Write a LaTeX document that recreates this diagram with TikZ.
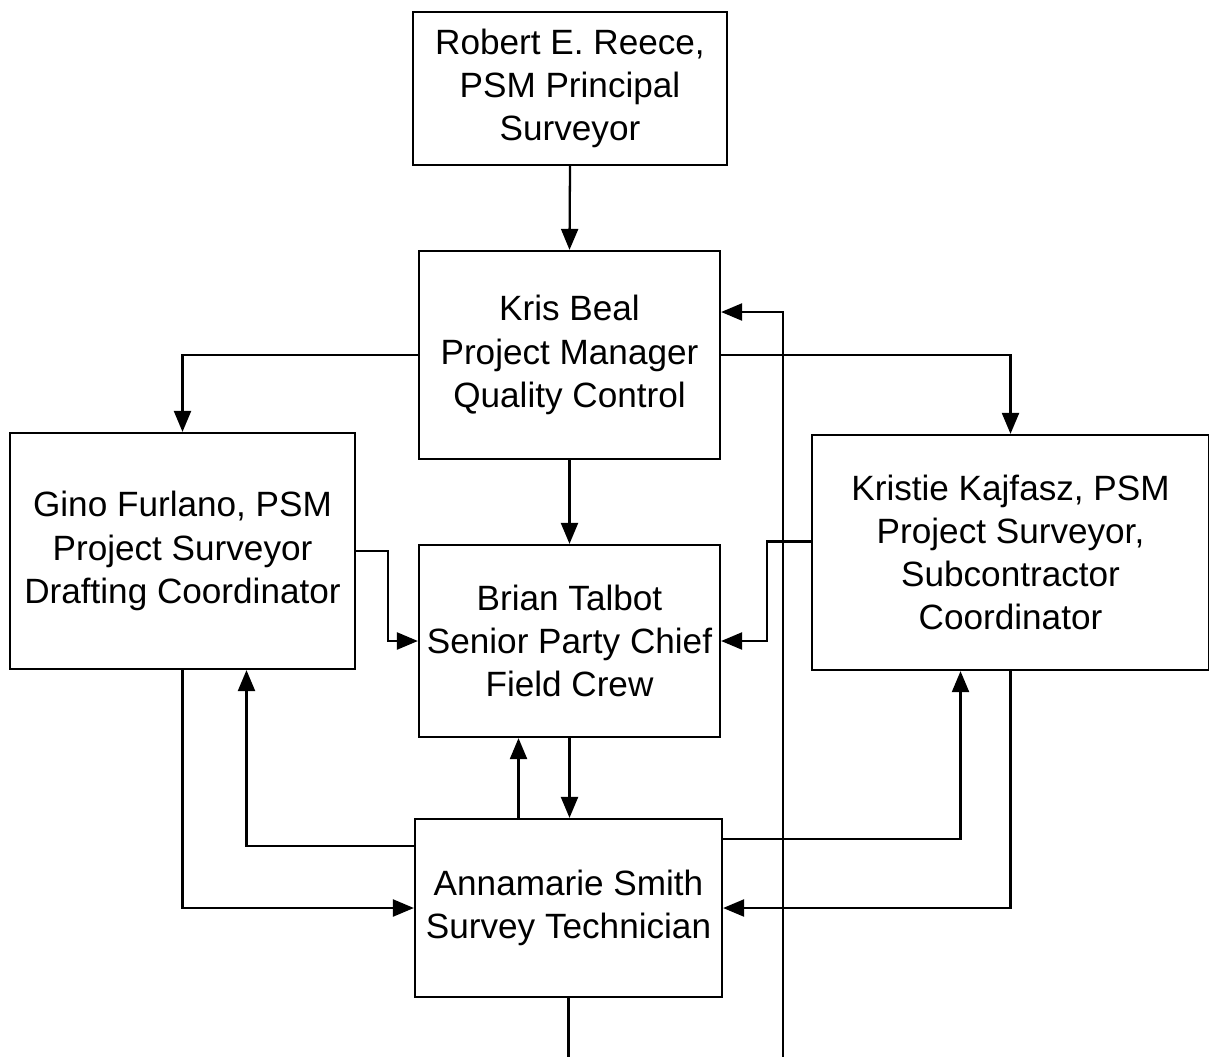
\documentclass[tikz,border=0pt]{standalone}
\usepackage{fontspec}
\setmainfont{Liberation Sans}
\usepackage{tikz}
\usetikzlibrary{arrows.meta}

\tikzset{
    person/.style = {draw, line width=1.3pt, align=center, inner sep=0pt,
        font=\fontsize{20}{24.6}\selectfont},
    link/.style = {line width=1.3pt, -{Triangle[length=0.42cm,width=0.34cm]}},
    plain/.style = {line width=1.3pt}
}

\begin{document}
\begin{tikzpicture}[x=0.02cm, y=-0.02cm]
    \useasboundingbox (0,0) rectangle (1209,1057);
    % Boxes
    \node[person, minimum width=6.28cm, minimum height=3.06cm] (reece) at (570,88.5)
        {Robert E. Reece,\\PSM Principal\\Surveyor};
    \node[person, minimum width=6.02cm, minimum height=4.16cm] (beal) at (569.5,355)
        {Kris Beal\\Project Manager\\Quality Control};
    \node[person, minimum width=6.9cm, minimum height=4.72cm] (furlano) at (182.5,551)
        {Gino Furlano, PSM\\Project Surveyor\\Drafting Coordinator};
    \node[person, minimum width=7.94cm, minimum height=4.7cm] (kajfasz) at (1010.5,552.5)
        {Kristie Kajfasz, PSM\\Project Surveyor,\\Subcontractor\\Coordinator};
    \node[person, minimum width=6.02cm, minimum height=3.84cm] (talbot) at (569.5,641)
        {Brian Talbot\\Senior Party Chief\\Field Crew};
    \node[person, minimum width=6.14cm, minimum height=3.56cm] (smith) at (568.5,908)
        {Annamarie Smith\\Survey Technician};
    \coordinate (loop) at (783,1100);
    % Top
    \draw[link] (reece.south) -- (beal.north);
    \draw[link] (beal.west) -| (furlano.north);
    \draw[link] (beal.east) -| (kajfasz.north);
    \draw[link] (beal.south) -- (talbot.north);
    % Middle
    \draw[link] (furlano.east) -- ++(32,0) |- (talbot.west);
    \draw[link] ([yshift=0.22cm]kajfasz.west) -- ++(-44,0) |- (talbot.east);
    \draw[link] (talbot.south) -- (talbot.south |- smith.north);
    \draw[link] ([xshift=-1cm]smith.north) -- ([xshift=-1cm]smith.north |- talbot.south);
    % Bottom
    \draw[link] (furlano.south) |- (smith.west);
    \draw[link] ([yshift=1.24cm]smith.west) -| ([xshift=1.28cm]furlano.south);
    \draw[link] ([yshift=1.38cm]smith.east) -| ([xshift=-1cm]kajfasz.south);
    \draw[link] (kajfasz.south) |- (smith.east);
    \draw[link] (smith.south) |- (loop) |- ([yshift=0.86cm]beal.east);
\end{tikzpicture}
\end{document}
